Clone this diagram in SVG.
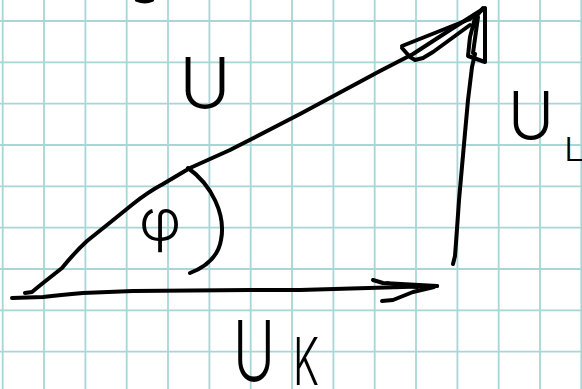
<svg xmlns="http://www.w3.org/2000/svg" width="582" height="389" viewBox="0 0 582 389">
<defs>
<style>
.grid line{stroke:#a7d6d5;stroke-width:1.8}
.ink{fill:none;stroke:#000;stroke-width:4;stroke-linecap:round;stroke-linejoin:round}
.lbl{font-family:Inter,"Open Sans","Liberation Sans",sans-serif;font-weight:350;fill:#000}
</style>
</defs>
<rect width="582" height="389" fill="#fff"/>
<g id="grid" class="grid">
<line x1="2.7" y1="0" x2="2.7" y2="389"/>
<line x1="44" y1="0" x2="44" y2="389"/>
<line x1="85.4" y1="0" x2="85.4" y2="389"/>
<line x1="126.7" y1="0" x2="126.7" y2="389"/>
<line x1="168" y1="0" x2="168" y2="389"/>
<line x1="209.4" y1="0" x2="209.4" y2="389"/>
<line x1="250.7" y1="0" x2="250.7" y2="389"/>
<line x1="292" y1="0" x2="292" y2="389"/>
<line x1="333.4" y1="0" x2="333.4" y2="389"/>
<line x1="374.7" y1="0" x2="374.7" y2="389"/>
<line x1="416" y1="0" x2="416" y2="389"/>
<line x1="457.4" y1="0" x2="457.4" y2="389"/>
<line x1="498.7" y1="0" x2="498.7" y2="389"/>
<line x1="540" y1="0" x2="540" y2="389"/>
<line x1="581.3" y1="0" x2="581.3" y2="389"/>
<line x1="0" y1="21" x2="582" y2="21"/>
<line x1="0" y1="62.3" x2="582" y2="62.3"/>
<line x1="0" y1="103.7" x2="582" y2="103.7"/>
<line x1="0" y1="145" x2="582" y2="145"/>
<line x1="0" y1="186.3" x2="582" y2="186.3"/>
<line x1="0" y1="227.7" x2="582" y2="227.7"/>
<line x1="0" y1="269" x2="582" y2="269"/>
<line x1="0" y1="310.3" x2="582" y2="310.3"/>
<line x1="0" y1="351.7" x2="582" y2="351.7"/>
</g>
<g id="connectors">
<g id="vector-U">
<path class="ink" d="M25,293 L32,292 Q38,287 43,283 L62,268 Q75,252 87,241 Q97,233 107,225 L133,204 Q148,192 163,184 L190,168 L230,150 L300,114 L380,71 L413,54 L450,30 L483,9"/>
<path class="ink" d="M402,46 L470,19 L485,8 M402,48 L410,57 L415,60 L423,58 L433,52 L470,25"/>
</g>
<g id="vector-UL">
<path class="ink" d="M453,264 L455,256 Q457,230 459,200 L465,133 L468,100 L472,67 L475,54"/>
<path class="ink" d="M468,56 L470,37 L475,18 L483,8 L485,9 L485,62 Z M478,17 L473,53"/>
</g>
<g id="vector-UK">
<path class="ink" d="M12,298 L43,297 Q60,295 83,293 L133,291 L250,290 L300,290 L437,286"/>
<path class="ink" d="M373,280 L383,283 L437,286 M382,301 L393,300 L413,292 L434,287 M387,283 L417,287"/>
</g>
<path id="angle-arc" class="ink" d="M188,168 C212,185 226,215 221,240 C218,258 203,268 190,273"/>
<path id="top-mark" class="ink" d="M137,0 Q145,3 152,0"/>
</g>
<g id="label-U"><text class="lbl" x="205" y="108" font-size="70" text-anchor="middle">U</text></g>
<g id="label-phi"><text class="lbl" x="160" y="241" font-size="58" text-anchor="middle">φ</text></g>
<g id="label-UL"><text class="lbl" x="508" y="139" font-size="66" textLength="46" lengthAdjust="spacingAndGlyphs">U</text><text class="lbl" x="564" y="161" font-size="33" textLength="20" lengthAdjust="spacingAndGlyphs">L</text></g>
<g id="label-UK"><text class="lbl" x="233" y="381" font-size="84" textLength="42" lengthAdjust="spacingAndGlyphs">U</text><text class="lbl" x="293" y="385" font-size="66" textLength="26" lengthAdjust="spacingAndGlyphs">K</text></g>
</svg>
